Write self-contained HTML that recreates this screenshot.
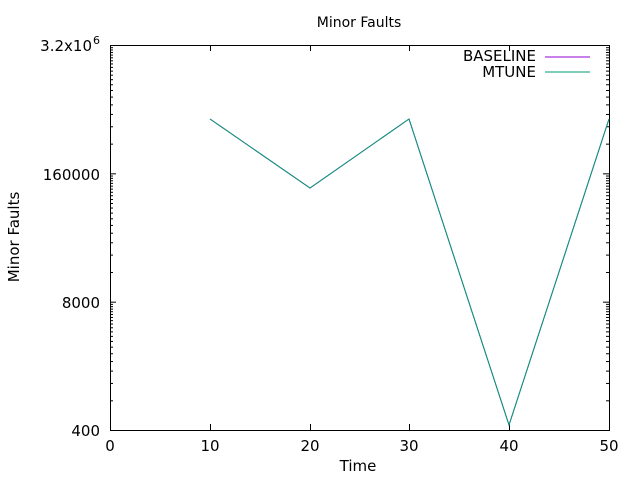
<!DOCTYPE html>
<html><head><style>
body{margin:0;background:#fff}
text{font-family:"DejaVu Sans","Liberation Sans",sans-serif;fill:#000}
</style></head><body>
<svg id="s" width="640" height="480" xmlns="http://www.w3.org/2000/svg">
<rect width="640" height="480" fill="#fff"/>
<text x="359" y="27" font-size="14" text-anchor="middle">Minor Faults</text>
<text x="358" y="471" font-size="15" text-anchor="middle">Time</text>
<text transform="translate(19,237) rotate(-90)" font-size="15" text-anchor="middle">Minor Faults</text>
<g font-size="15" text-anchor="end">
<text x="100" y="436">400</text>
<text x="100" y="308">8000</text>
<text x="100" y="180">160000</text>
<text x="92" y="51">3.2x10</text><text x="93" y="44" font-size="11" text-anchor="start">6</text>
</g>
<g font-size="15" text-anchor="middle">
<text x="110" y="451">0</text><text x="210" y="451">10</text><text x="310" y="451">20</text>
<text x="409" y="451">30</text><text x="509" y="451">40</text><text x="609" y="451">50</text>
</g>
<g id="ticks" stroke="#000" stroke-width="1"></g>
<rect x="110.5" y="45.5" width="499" height="385" fill="none" stroke="#000" stroke-width="1"/>
<text x="536" y="61" font-size="15" text-anchor="end">BASELINE</text>
<text x="536" y="77" font-size="15" text-anchor="end">MTUNE</text>
<line x1="545" y1="57" x2="590" y2="57" stroke="#9400d3"/>
<line x1="545" y1="72" x2="590" y2="72" stroke="#009e73"/>
<polyline points="210,119 310,188 409,119 509,425 609,119" fill="none" stroke="#9400d3" stroke-width="1"/>
<polyline points="210,119 310,188 409,119 509,425 609,119" fill="none" stroke="#009e73" stroke-width="1"/>
</svg>
<script>
var g=document.getElementById('ticks'),h='';
var s=385/Math.log(8000);
function L(x1,y1,x2,y2){h+='<line x1="'+x1+'" y1="'+y1+'" x2="'+x2+'" y2="'+y2+'"/>';}
for(var d=0;d<4;d++){var b=430.5-d*Math.log(20)*s;
 L(110,b,116,b);L(609,b,603,b);
 if(d<3)for(var k=2;k<20;k++){var y=b-Math.log(k)*s;L(110,y,113,y);L(609,y,606,y);}}
[110,210,310,409,509,609].forEach(function(x){x+=0.5;L(x,430,x,424);L(x,45,x,51);});
g.innerHTML=h;
</script>
</body></html>
